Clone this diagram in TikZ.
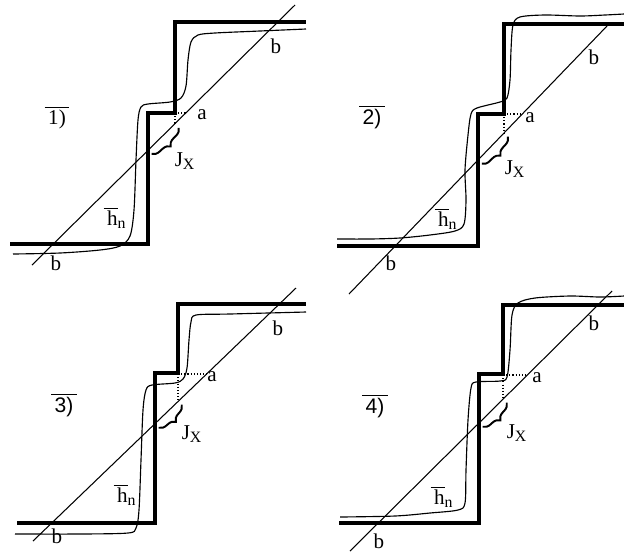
\documentclass[tikz,border=0pt]{standalone}
\usepackage{fontspec}
\setmainfont{Liberation Serif}
\newfontfamily\hxsans{Liberation Sans}
\usetikzlibrary{decorations.pathreplacing}

\tikzset{
  hxstep/.style={line width=2.3pt, line join=miter},
  hxcurve/.style={line width=.65pt},
  hxline/.style={line width=.6pt},
  hxdot/.style={line width=.6pt, dash pattern=on .6pt off 1.2pt},
  hxbrace/.style={line width=1.1pt, decorate, decoration={brace, amplitude=4.5pt, raise=3pt}},
  hxlabel/.style={inner sep=0pt, font=\fontsize{12}{14}\selectfont}
}

\begin{document}
\begin{tikzpicture}[x=0.02cm, y=-0.02cm]
\useasboundingbox (0,0) rectangle (624,552);

\coordinate (d1s) at (32,265);
\coordinate (d1e) at (295,5);
\coordinate (c1) at (175,113);
\coordinate (j1a) at (175,124);
\coordinate (j1b) at (148,150);

\coordinate (d2s) at (349,294);
\coordinate (d2e) at (607,26);
\coordinate (c2) at (504,114);
\coordinate (j2a) at (504,133);
\coordinate (j2b) at (478,160);

\coordinate (d3s) at (33,541);
\coordinate (d3e) at (296,288);
\coordinate (c3) at (178,374);
\coordinate (j3a) at (178,401);
\coordinate (j3b) at (155,424);

\coordinate (d4s) at (350,551);
\coordinate (d4e) at (612,291);
\coordinate (c4) at (503,375);
\coordinate (j4a) at (503,399);
\coordinate (j4b) at (479,423);

\draw[hxstep] (10,244) -- (148,244) -- (148,113) -- (175,113) -- (175,22) -- (306,22);
\draw[hxstep] (337,246) -- (478,246) -- (478,114) -- (504,114) -- (504,24) -- (624,24);
\draw[hxstep] (17,523) -- (155,523) -- (155,373) -- (178,373) -- (178,304) -- (306,304);
\draw[hxstep] (339,523) -- (479,523) -- (479,374) -- (503,374) -- (503,305) -- (624,305);

\draw[hxline] (d1s) -- (d1e);
\draw[hxline] (d2s) -- (d2e);
\draw[hxline] (d3s) -- (d3e);
\draw[hxline] (d4s) -- (d4e);

\draw[hxcurve] plot[smooth, tension=.5] coordinates {(13,254) (60,253) (100,250) (120,246) (130,236) (134,210) (136,160) (138,120) (141,107) (148,104) (170,102) (181,98) (186,86) (188,60) (191,42) (198,35) (215,33) (260,31) (306,29)};
\draw[hxcurve] plot[smooth, tension=.5] coordinates {(337,239) (370,239) (400,238) (430,235) (455,231) (464,224) (466,200) (465,170) (468,135) (471,114) (477,108) (500,102) (507,98) (510,80) (511,50) (513,25) (520,17) (545,15) (580,16) (605,15) (624,14)};
\draw[hxcurve] plot[smooth, tension=.5] coordinates {(15,534) (80,534) (128,533) (136,528) (139,510) (141,460) (143,410) (146,390) (152,385) (175,383) (183,379) (187,368) (189,340) (191,322) (196,315) (230,314) (306,312)};
\draw[hxcurve] plot[smooth, tension=.5] coordinates {(340,517) (395,516) (430,513) (458,510) (465,503) (466,470) (468,420) (471,388) (476,382) (500,381) (507,377) (510,350) (512,315) (518,303) (535,298) (570,296) (600,297) (624,296)};

\draw[hxdot] (c1) -- (186,113);
\draw[hxdot] (c1) -- (j1a);
\draw[hxdot] (c2) -- (522,114);
\draw[hxdot] (c2) -- (j2a);
\draw[hxdot] (c3) -- (207,374);
\draw[hxdot] (c3) -- (j3a);
\draw[hxdot] (c4) -- (527,375);
\draw[hxdot] (c4) -- (j4a);

\draw[hxbrace] (j1a) -- (j1b);
\draw[hxbrace] (j2a) -- (j2b);
\draw[hxbrace] (j3a) -- (j3b);
\draw[hxbrace] (j4a) -- (j4b);

\node[hxlabel] (n1) at (57,118) {$\overline{\hbox{\,1)\,}}$};
\node[hxlabel] (n2) at (372,117) {$\overline{\hbox{\,\hxsans 2)\,}}$};
\node[hxlabel] (n3) at (64,405) {$\overline{\hbox{\,\hxsans 3)\,}}$};
\node[hxlabel] (n4) at (375,406) {$\overline{\hbox{\,\hxsans 4)\,}}$};

\node[hxlabel] (a1) at (202,115) {a};
\node[hxlabel] (a2) at (530,118) {a};
\node[hxlabel] (a3) at (212,377) {a};
\node[hxlabel] (a4) at (537,378) {a};

\node[hxlabel] (b1u) at (276,46) {b};
\node[hxlabel] (b1l) at (56,263) {b};
\node[hxlabel] (b2u) at (594,57) {b};
\node[hxlabel] (b2l) at (391,263) {b};
\node[hxlabel] (b3u) at (278,328) {b};
\node[hxlabel] (b3l) at (57,536) {b};
\node[hxlabel] (b4u) at (594,323) {b};
\node[hxlabel] (b4l) at (379,541) {b};

\node[hxlabel] (h1) at (115,218) {$\overline{\hbox{\,h}}_{\hbox{\small n}}$};
\node[hxlabel] (h2) at (446,219) {$\overline{\hbox{\,h}}_{\hbox{\small n}}$};
\node[hxlabel] (h3) at (125,495) {$\overline{\hbox{\,h}}_{\hbox{\small n}}$};
\node[hxlabel] (h4) at (442,497) {$\overline{\hbox{\,h}}_{\hbox{\small n}}$};

\node[hxlabel] (jx1) at (185,161) {J$_{\hbox{\small X}}$};
\node[hxlabel] (jx2) at (515,169) {J$_{\hbox{\small X}}$};
\node[hxlabel] (jx3) at (192,434) {J$_{\hbox{\small X}}$};
\node[hxlabel] (jx4) at (517,433) {J$_{\hbox{\small X}}$};
\end{tikzpicture}
\end{document}
